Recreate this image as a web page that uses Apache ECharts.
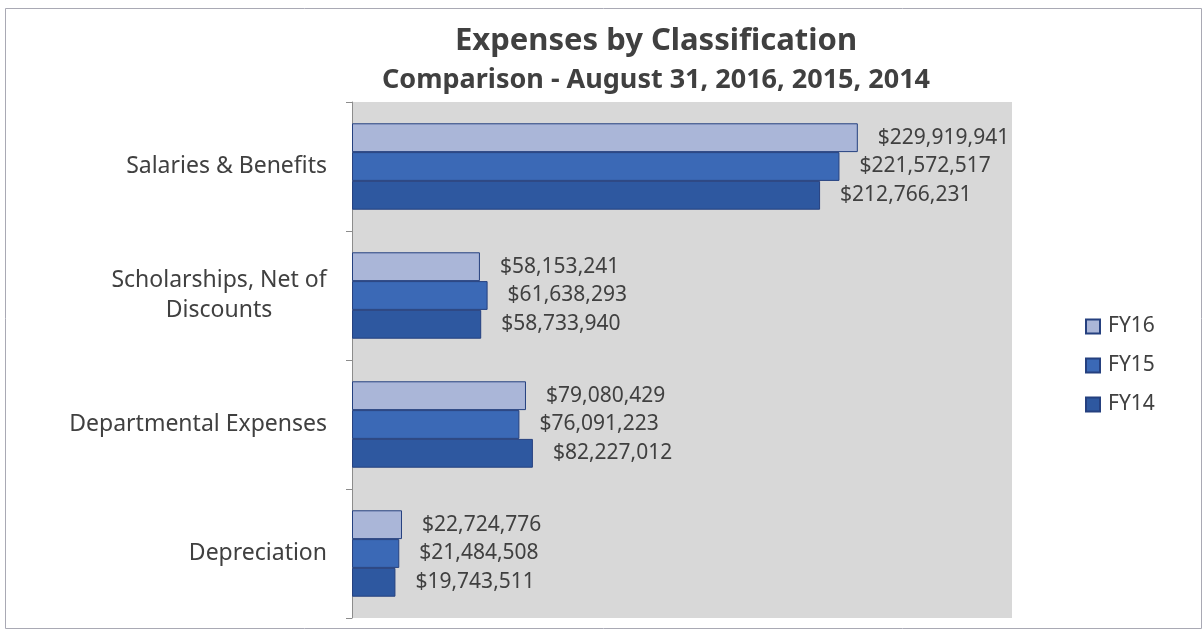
<!DOCTYPE html>
<html>
<head>
<meta charset="utf-8">
<title>Expenses by Classification</title>
<script src="https://cdn.jsdelivr.net/npm/echarts@6/dist/echarts.min.js"></script>
<style>
  html, body { margin: 0; padding: 0; background: #ffffff; }
  #chart { width: 1204px; height: 630px; }
</style>
</head>
<body>
<div id="chart"></div>
<script>
// Expense classifications, listed top to bottom
const categories = ['Salaries & Benefits', 'Scholarships, Net of Discounts', 'Departmental Expenses', 'Depreciation'];

// Fiscal-year totals (dollars), one value per classification
const fy16 = [229919941, 58153241, 79080429, 22724776];
const fy15 = [221572517, 61638293, 76091223, 21484508];
const fy14 = [212766231, 58733940, 82227012, 19743511];

const seriesNames = ['FY16', 'FY15', 'FY14'];
const seriesData = [fy16, fy15, fy14];
const seriesColors = ['#aab6d8', '#3b69b6', '#2e58a0'];

const FONT = 'Noto Sans';
const TEXT = '#404040';

function money(v) {
  return '$' + v.toLocaleString('en-US');
}

const chart = echarts.init(document.getElementById('chart'), null, { renderer: 'canvas' });

chart.setOption({
  animation: false,
  backgroundColor: '#ffffff',
  textStyle: { fontFamily: FONT },
  graphic: [{
    type: 'rect',
    shape: { x: 5.5, y: 8.5, width: 1196, height: 620 },
    style: { fill: 'none', stroke: '#a9a9b4', lineWidth: 1 },
    silent: true
  }],
  title: [{
    text: 'Expenses by Classification',
    left: 651, top: 21, textAlign: 'center',
    textStyle: { fontFamily: FONT, fontSize: 31, fontWeight: 'bold', color: TEXT }
  }, {
    text: 'Comparison - August 31, 2016, 2015, 2014',
    left: 651, top: 62, textAlign: 'center',
    textStyle: { fontFamily: FONT, fontSize: 27, fontWeight: 'bold', color: TEXT }
  }],
  legend: {
    orient: 'vertical',
    left: 1085, top: 316,
    padding: 0,
    itemWidth: 14, itemHeight: 14, itemGap: 18,
    icon: 'rect',
    textStyle: { fontFamily: FONT, fontSize: 21, color: TEXT, padding: [0, 0, 0, 3] },
    data: seriesNames
  },
  grid: {
    left: 352, top: 102, width: 660, height: 516,
    show: true, backgroundColor: '#d8d8d8', borderWidth: 0
  },
  xAxis: {
    type: 'value',
    min: 0, max: 300000000,
    show: false,
    splitLine: { show: false }
  },
  yAxis: {
    type: 'category',
    inverse: true,
    data: categories,
    axisLine: { show: true, lineStyle: { color: '#8c8c8c', width: 1 } },
    axisTick: { show: true, length: 6, lineStyle: { color: '#8c8c8c' } },
    axisLabel: {
      margin: 25,
      fontFamily: FONT, fontSize: 23, color: TEXT, lineHeight: 30,
      formatter: function (v) {
        if (v === 'Scholarships, Net of Discounts') {
          return '{c|Scholarships, Net of}\n{c|Discounts}';
        }
        return v;
      },
      rich: {
        c: { width: 216, align: 'center', fontFamily: FONT, fontSize: 23, color: TEXT, lineHeight: 30 }
      }
    }
  },
  series: seriesNames.map(function (name, i) {
    return {
      name: name,
      type: 'bar',
      data: seriesData[i],
      barGap: '0%',
      barCategoryGap: '33%',
      itemStyle: { color: seriesColors[i], borderColor: '#25407f', borderWidth: 1 },
      label: {
        show: true,
        position: 'right',
        distance: 20,
        fontFamily: FONT, fontSize: 21, color: TEXT,
        formatter: function (p) { return money(p.value); }
      }
    };
  })
});
</script>
</body>
</html>
